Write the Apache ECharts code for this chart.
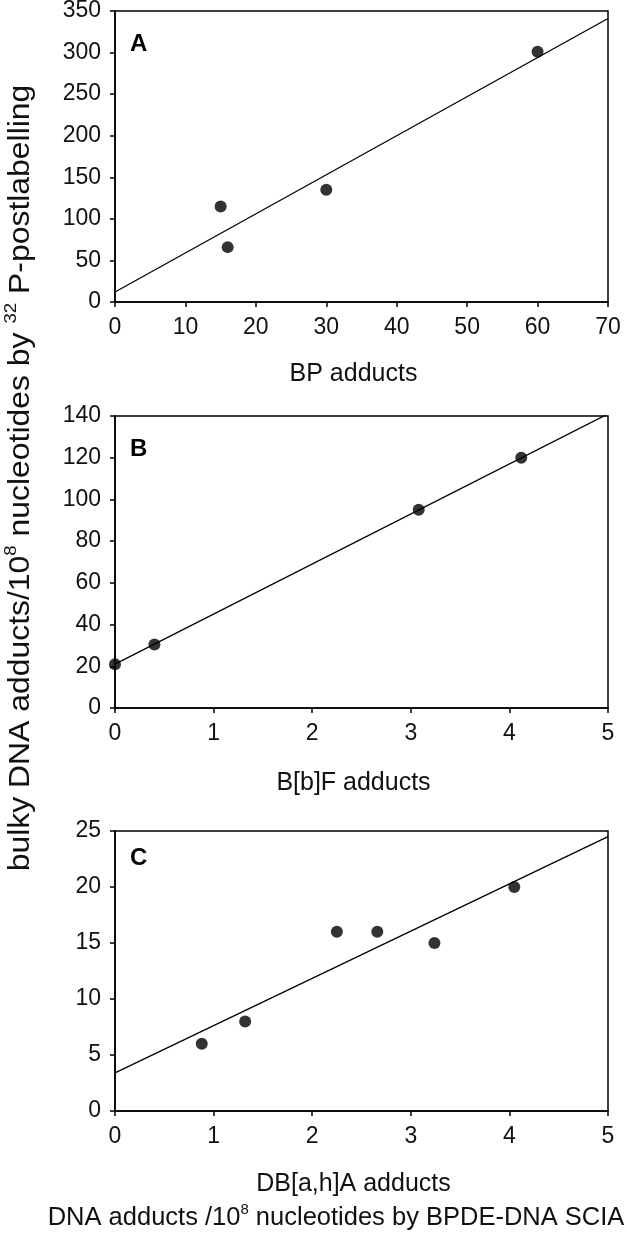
<!DOCTYPE html>
<html><head><meta charset="utf-8">
<script src="https://cdn.jsdelivr.net/npm/echarts@6/dist/echarts.min.js"></script>
<style>html,body{margin:0;padding:0;background:#fff}#c{width:628px;height:1233px}</style>
</head><body><div id="c"></div>
<script>
// Panel A: BP adducts
const aPoints = [[15, 115], [16, 66], [30, 135], [60, 301]];
const aFit = [[0, 12], [70, 341]];
// Panel B: B[b]F adducts
const bPoints = [[0, 21], [0.4, 30.5], [3.08, 95], [4.12, 120]];
const bFit = [[0, 21], [5, 141]];
// Panel C: DB[a,h]A adducts
const cPoints = [[0.88, 6], [1.32, 8], [2.25, 16], [2.66, 16], [3.24, 15], [4.05, 20]];
const cFit = [[0, 3.4], [5, 24.5]];

const xNames = ['BP adducts', 'B[b]F adducts', 'DB[a,h]A adducts'];
const panelLetters = ['A', 'B', 'C'];
const xRanges = [[0, 70, 10], [0, 5, 1], [0, 5, 1]];
const yRanges = [[0, 350, 50], [0, 140, 20], [0, 25, 5]];

const FONT = '"Liberation Sans", Arial, sans-serif';
const grids = [
  {left: 115, right: 20, top: 11, height: 291},
  {left: 115, right: 20, top: 416, height: 292},
  {left: 115, right: 20, top: 831, height: 280}
];
const nameGaps = [60, 63, 61];
const letterY = [44, 449, 858];
const chart = echarts.init(document.getElementById('c'), null, {renderer: 'canvas'});
const pts = [aPoints, bPoints, cPoints];
const fits = [aFit, bFit, cFit];
const option = {
  backgroundColor: '#fff',
  animation: false,
  grid: grids.map(g => Object.assign({show: true, borderColor: '#000', borderWidth: 1.5, backgroundColor: 'transparent', containLabel: false, outerBoundsMode: 'none'}, g)),
  xAxis: xRanges.map((r, i) => ({
    type: 'value', gridIndex: i, min: r[0], max: r[1], interval: r[2],
    name: xNames[i], nameLocation: 'middle', nameGap: nameGaps[i],
    nameTextStyle: {fontFamily: FONT, fontSize: 25, color: '#111', padding: [0, 16, 0, 0]},
    axisLine: {show: true, onZero: false, lineStyle: {color: '#000', width: 1.6}},
    axisTick: {show: true, inside: false, length: 5, lineStyle: {color: '#000', width: 1.5}},
    axisLabel: {fontFamily: FONT, fontSize: 23, color: '#111', margin: 14},
    splitLine: {show: false}
  })),
  yAxis: yRanges.map((r, i) => ({
    type: 'value', gridIndex: i, min: r[0], max: r[1], interval: r[2],
    axisLine: {show: true, onZero: false, lineStyle: {color: '#000', width: 1.6}},
    axisTick: {show: true, inside: false, length: 5, lineStyle: {color: '#000', width: 1.5}},
    axisLabel: {fontFamily: FONT, fontSize: 23, color: '#111', margin: 14},
    splitLine: {show: false}
  })),
  series: [].concat(...pts.map((p, i) => [
    {type: 'line', xAxisIndex: i, yAxisIndex: i, data: fits[i], showSymbol: false, symbol: 'none',
     lineStyle: {color: '#000', width: 1.3}, silent: true, z: 2},
    {type: 'scatter', xAxisIndex: i, yAxisIndex: i, data: p, symbol: 'circle', symbolSize: 12,
     itemStyle: {color: '#000'}, z: 3}
  ])),
  graphic: [
    ...panelLetters.map((t, i) => ({type: 'text', x: 130, y: letterY[i],
      style: {text: t, font: 'bold 24px ' + FONT, fill: '#000', verticalAlign: 'middle'}})),
    {type: 'text', x: 21, y: 478, rotation: Math.PI / 2, scaleX: 1.1,
     style: {text: '{a|bulky DNA adducts/10}{s|8}{a| nucleotides by }{s|32}{a| P-postlabelling}',
       align: 'center', verticalAlign: 'middle', fill: '#111',
       rich: {a: {fontFamily: FONT, fontSize: 29, lineHeight: 36, fill: '#111'},
              s: {fontFamily: FONT, fontSize: 17, verticalAlign: 'top', lineHeight: 18, fill: '#111'}}}},
    {type: 'text', x: 336, y: 1218,
     style: {text: '{a|DNA adducts /10}{s|8}{a| nucleotides by BPDE-DNA SCIA}',
       align: 'center', verticalAlign: 'middle', fill: '#111',
       rich: {a: {fontFamily: FONT, fontSize: 25.5, lineHeight: 32, fill: '#111'},
              s: {fontFamily: FONT, fontSize: 15, verticalAlign: 'top', lineHeight: 16, fill: '#111'}}}}
  ]
};
chart.setOption(option);
</script></body></html>
